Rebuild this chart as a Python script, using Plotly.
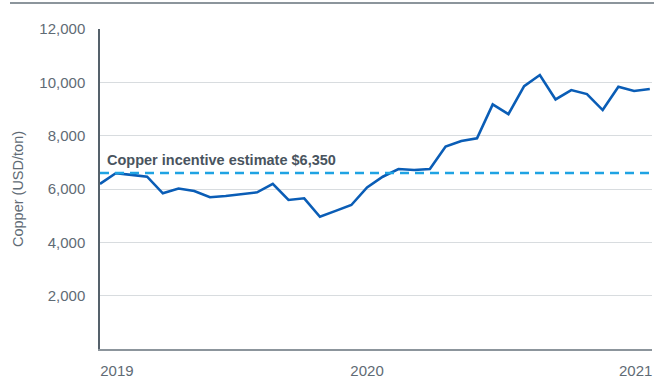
import plotly.graph_objects as go

# Data
point_index = list(range(36))
copper_price = [6190, 6590, 6530, 6460, 5840, 6020, 5925, 5690, 5740, 5810,
                5875, 6190, 5590, 5650, 4960, 5180, 5400, 6060, 6460, 6750,
                6710, 6750, 7590, 7800, 7900, 9175, 8810, 9860, 10275, 9360,
                9710, 9560, 8960, 9835, 9675, 9750]
incentive_level = 6600
incentive_label = "Copper incentive estimate $6,350"
year_tick_pos = [1.08, 17.0, 34.1]
year_tick_text = ["2019", "2020", "2021"]
y_tick_vals = [2000, 4000, 6000, 8000, 10000, 12000]
y_tick_text = ["2,000", "4,000", "6,000", "8,000", "10,000", "12,000"]

FONT = "Liberation Sans"
GREY = "#5f6b75"

fig = go.Figure()
fig.add_trace(go.Scatter(
    x=point_index, y=copper_price, mode="lines",
    line=dict(color="#0a5db6", width=2.6),
    hoverinfo="skip", showlegend=False,
))

# incentive dashed line
fig.add_shape(type="line", xref="paper", yref="y", x0=0, x1=1,
              y0=incentive_level, y1=incentive_level,
              line=dict(color="#1fa3e3", width=2.5, dash="9px,6px"))
fig.add_annotation(x=0, xref="paper", xanchor="left", xshift=5,
                   y=incentive_level, yref="y", yanchor="bottom", yshift=3,
                   text="<b>" + incentive_label + "</b>", showarrow=False,
                   font=dict(family=FONT, size=14.5, color="#49545e"))

# top border line
fig.add_shape(type="line", xref="paper", yref="paper",
              x0=(10 - 100) / 552, x1=(654 - 100) / 552,
              y0=1 + 26 / 320, y1=1 + 26 / 320,
              line=dict(color="#8c959c", width=2))

fig.update_layout(
    width=654, height=376,
    margin=dict(l=100, r=2, t=29, b=27),
    paper_bgcolor="white", plot_bgcolor="white",
    font=dict(family=FONT, color=GREY),
)
fig.update_xaxes(
    range=[0, 35.14], tickvals=year_tick_pos, ticktext=year_tick_text,
    showgrid=False, zeroline=False, showline=True, automargin=False,
    linecolor="#8c959c", linewidth=1.5,
    tickfont=dict(family=FONT, size=15, color=GREY),
    ticks="outside", ticklen=7, tickcolor="rgba(0,0,0,0)",
)
fig.update_yaxes(
    range=[0, 12000], tickvals=y_tick_vals, ticktext=y_tick_text,
    showgrid=True, gridcolor="#d8dcdf", gridwidth=1, automargin=False,
    zeroline=False, showline=True, linecolor="#55616b", linewidth=1.5,
    tickfont=dict(family=FONT, size=15, color=GREY),
    ticks="outside", ticklen=10, tickcolor="rgba(0,0,0,0)",
    title=dict(text="Copper (USD/ton)", font=dict(family=FONT, size=14.5, color=GREY),
               standoff=12),
)

fig.write_html("out.html")
